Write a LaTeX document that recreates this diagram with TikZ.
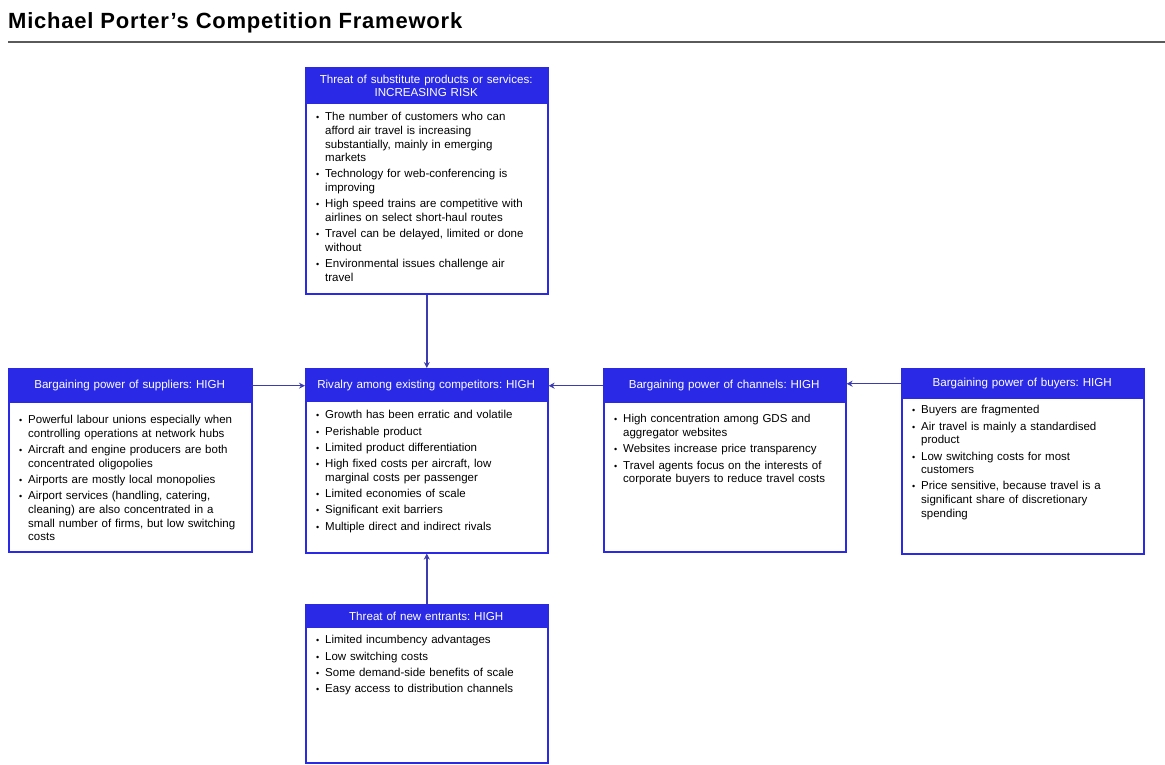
\documentclass[tikz,border=0pt]{standalone}
\usepackage{fontspec}
\setmainfont{Liberation Sans}
\usepackage{enumitem}
\usetikzlibrary{arrows.meta}
\frenchspacing
\definecolor{pblue}{RGB}{42,42,230}
\definecolor{parrow}{RGB}{60,60,175}
\definecolor{rulegray}{RGB}{90,90,90}
\tikzset{
 box/.style={draw=pblue, line width=1.6pt, anchor=north west, inner sep=0pt, fill=white, minimum width=242pt},
 hdr/.style={fill=pblue, anchor=north west, inner sep=0pt, text=white, font=\fontsize{11.6}{13}\selectfont, align=center, minimum width=242pt, text width=238pt},
 body/.style={anchor=north west, inner sep=0pt, text width=230pt, font=\fontsize{11.5}{13.6}\selectfont, align=left},
 arr/.style={draw=parrow, line width=1.5pt, -{Stealth[length=6pt,width=6pt]}},
}
\newcommand{\blist}[1]{\begin{itemize}[leftmargin=12pt,labelsep=6pt,itemsep=2.7pt,topsep=0pt,parsep=0pt,partopsep=0pt,label={\small\textbullet}]#1\end{itemize}}
\begin{document}
\begin{tikzpicture}[x=1pt,y=-1pt]
\useasboundingbox (0,0) rectangle (1165,764);
% title
\node[anchor=west, inner sep=0pt, font=\fontsize{22}{24}\selectfont\bfseries\addfontfeature{LetterSpace=3.5}] (title) at (8,23) {Michael Porter’s Competition Framework};
\draw[rulegray, line width=1.3pt] (8,42) -- (1165,42);

% substitutes (top)
\node[box, minimum height=226pt] (sub) at (305,67) {};
\node[hdr, minimum height=37pt] (subh) at (305,67) {Threat of substitute products or services:\\INCREASING RISK};
\node[body] (subb) at (313,107) {\blist{
\item The number of customers who can\newline afford air travel is increasing\newline substantially, mainly in emerging\newline markets
\item Technology for web-conferencing is\newline improving
\item High speed trains are competitive with\newline airlines on select short-haul routes
\item Travel can be delayed, limited or done\newline without
\item Environmental issues challenge air\newline travel}};

% suppliers (left)
\node[box, minimum height=183pt, minimum width=243pt] (sup) at (8,368) {};
\node[hdr, minimum height=35pt, minimum width=243pt] (suph) at (8,368) {Bargaining power of suppliers: HIGH};
\node[body] (supb) at (16,410) {\blist{
\item Powerful labour unions especially when\newline controlling operations at network hubs
\item Aircraft and engine producers are both\newline concentrated oligopolies
\item Airports are mostly local monopolies
\item Airport services (handling, catering,\newline cleaning) are also concentrated in a\newline small number of firms, but low switching\newline costs}};

% rivalry (centre)
\node[box, minimum height=184pt] (riv) at (305,368) {};
\node[hdr, minimum height=34pt] (rivh) at (305,368) {Rivalry among existing competitors: HIGH};
\node[body] (rivb) at (313,405) {\blist{
\item Growth has been erratic and volatile
\item Perishable product
\item Limited product differentiation
\item High fixed costs per aircraft, low\newline marginal costs per passenger
\item Limited economies of scale
\item Significant exit barriers
\item Multiple direct and indirect rivals}};

% channels
\node[box, minimum height=183pt] (cha) at (603,368) {};
\node[hdr, minimum height=35pt] (chah) at (603,368) {Bargaining power of channels: HIGH};
\node[body] (chab) at (611,409) {\blist{
\item High concentration among GDS and\newline aggregator websites
\item Websites increase price transparency
\item Travel agents focus on the interests of\newline corporate buyers to reduce travel costs}};

% buyers
\node[box, minimum height=185pt] (buy) at (901,368) {};
\node[hdr, minimum height=31pt] (buyh) at (901,368) {Bargaining power of buyers: HIGH};
\node[body] (buyb) at (909,400) {\blist{
\item Buyers are fragmented
\item Air travel is mainly a standardised\newline product
\item Low switching costs for most\newline customers
\item Price sensitive, because travel is a\newline significant share of discretionary\newline spending}};

% new entrants (bottom)
\node[box, minimum height=158pt] (new) at (305,604) {};
\node[hdr, minimum height=24pt] (newh) at (305,604) {Threat of new entrants: HIGH};
\node[body] (newb) at (313,630) {\blist{
\item Limited incumbency advantages
\item Low switching costs
\item Some demand-side benefits of scale
\item Easy access to distribution channels}};

% connectors
\draw[arr] (sub.south) -- (riv.north);
\draw[arr] (new.north) -- (riv.south);
\draw[arr] (suph.east) -- (suph.east -| riv.west);
\draw[arr] (chah.west) -- (chah.west -| riv.east);
\draw[arr] (buyh.west) -- (buyh.west -| cha.east);
\end{tikzpicture}
\end{document}
